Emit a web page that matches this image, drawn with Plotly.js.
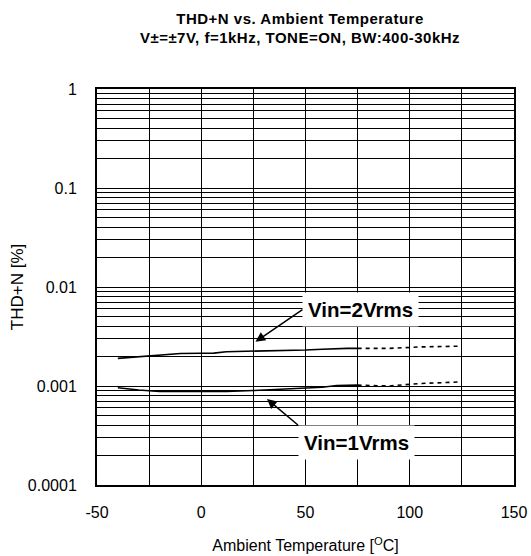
<!DOCTYPE html>
<html>
<head>
<meta charset="utf-8">
<script src="https://cdn.plot.ly/plotly-3.0.1.min.js"></script>
<style>
html,body{margin:0;padding:0;background:#fff;}
#chart{width:531px;height:556px;}
.gtitle{letter-spacing:0.5px;}
</style>
</head>
<body>
<div id="chart"></div>
<script>
// Measured region (solid lines)
var tempMeasured = [-40, -30, -20, -10, 0, 6, 12, 25, 40, 50, 58, 65, 70, 75];
var vin2Measured = [0.00190, 0.00198, 0.00206, 0.00213, 0.00214, 0.00215, 0.00222, 0.00224, 0.00228, 0.00231, 0.00235, 0.00240, 0.00240, 0.00240];
var vin1Measured = [0.00096, 0.00091, 0.00088, 0.00088, 0.00088, 0.00088, 0.00088, 0.00090, 0.00093, 0.00096, 0.00097, 0.00101, 0.00102, 0.00102];
// Extrapolated region (dashed lines)
var tempExtrap = [75, 90, 105, 125];
var vin2Extrap = [0.00240, 0.00240, 0.00248, 0.00253];
var vin1Extrap = [0.00102, 0.00100, 0.00106, 0.00110];

// Axis labels
var xTickVals = [-50, 0, 50, 100, 150];
var xTickText = ['-50', '0', '50', '100', '150'];
var yTickVals = [0.0001, 0.001, 0.01, 0.1, 1];
var yTickText = ['0.0001', '0.001', '0.01', '0.1', '1'];
var minorGridValues = [0.0002,0.0003,0.0004,0.0005,0.0006,0.0007,0.0008,0.0009,
                       0.002,0.003,0.004,0.005,0.006,0.007,0.008,0.009,
                       0.02,0.03,0.04,0.05,0.06,0.07,0.08,0.09,
                       0.2,0.3,0.4,0.5,0.6,0.7,0.8,0.9];
var xMinorGrid = [-25, 25, 75, 125];

// Annotation labels
var label2 = 'Vin=2Vrms', label2Tip = [26, 0.0028];
var label1 = 'Vin=1Vrms', label1Tip = [31.5, 0.00074];

var FONT = 'Arial, "Liberation Sans", sans-serif';
var lineStyle = {color: '#000', width: 1.6};
var dashStyle = {color: '#000', width: 1.6, dash: '4px,4px'};

var traces = [
  {x: tempMeasured, y: vin2Measured, mode: 'lines', line: lineStyle, name: label2, showlegend: false, hoverinfo: 'skip'},
  {x: tempExtrap, y: vin2Extrap, mode: 'lines', line: dashStyle, name: label2, showlegend: false, hoverinfo: 'skip'},
  {x: tempMeasured, y: vin1Measured, mode: 'lines', line: lineStyle, name: label1, showlegend: false, hoverinfo: 'skip'},
  {x: tempExtrap, y: vin1Extrap, mode: 'lines', line: dashStyle, name: label1, showlegend: false, hoverinfo: 'skip'}
];

var layout = {
  width: 531, height: 556,
  paper_bgcolor: '#fff', plot_bgcolor: '#fff',
  margin: {l: 97, r: 17, t: 89, b: 71, pad: 0},
  font: {family: FONT, color: '#000', size: 16},
  title: {
    text: '<b>THD+N vs. Ambient Temperature<br>V±=±7V, f=1kHz, TONE=ON, BW:400-30kHz</b>',
    font: {family: FONT, size: 15, color: '#000'},
    xref: 'container', yref: 'container', x: 0.565, xanchor: 'center', y: 0.957, yanchor: 'middle'
  },
  xaxis: {
    range: [-50, 150], tickmode: 'array', tickvals: xTickVals, ticktext: xTickText,
    showgrid: true, gridcolor: '#000', gridwidth: 1,
    minor: {tickmode: 'array', tickvals: xMinorGrid, showgrid: true, gridcolor: '#000', gridwidth: 1, ticks: ''},
    showline: true, linecolor: '#000', linewidth: 2, mirror: true,
    ticks: '', ticklabelstandoff: 12, zeroline: false,
    tickfont: {family: FONT, size: 16, color: '#000'},
    title: {text: 'Ambient Temperature [<sup>O</sup>C]', font: {family: FONT, size: 16, color: '#000'}, standoff: 20}
  },
  yaxis: {
    type: 'log', range: [-4, 0], tickmode: 'array', tickvals: yTickVals, ticktext: yTickText,
    showgrid: true, gridcolor: '#000', gridwidth: 1,
    minor: {tickmode: 'array', tickvals: minorGridValues, showgrid: true, gridcolor: '#000', gridwidth: 1, ticks: ''},
    showline: true, linecolor: '#000', linewidth: 2, mirror: true,
    ticks: '', ticklabelstandoff: 15, zeroline: false,
    tickfont: {family: FONT, size: 16, color: '#000'},
    title: {text: 'THD+N [%]', font: {family: FONT, size: 17, color: '#000'}, standoff: 0}
  },
  annotations: [
    {x: label2Tip[0], y: Math.log10(label2Tip[1]), xref: 'x', yref: 'y', text: '<b>' + label2 + '</b>',
     font: {family: FONT, size: 20.5, color: '#000'}, bgcolor: '#fff', borderpad: 5,
     showarrow: true, arrowhead: 2, arrowsize: 1.3, arrowwidth: 1.5, arrowcolor: '#000',
     axref: 'pixel', ayref: 'pixel', ax: 47, ay: -32, xanchor: 'left', yanchor: 'middle'},
    {x: label1Tip[0], y: Math.log10(label1Tip[1]), xref: 'x', yref: 'y', text: '<b>' + label1 + '</b>',
     font: {family: FONT, size: 20.5, color: '#000'}, bgcolor: '#fff', borderpad: 5,
     showarrow: true, arrowhead: 2, arrowsize: 1.3, arrowwidth: 1.5, arrowcolor: '#000',
     axref: 'pixel', ayref: 'pixel', ax: 31, ay: 26, xanchor: 'left', yanchor: 'top'}
  ]
};

Plotly.newPlot('chart', traces, layout, {displayModeBar: false, staticPlot: true});
</script>
</body>
</html>
